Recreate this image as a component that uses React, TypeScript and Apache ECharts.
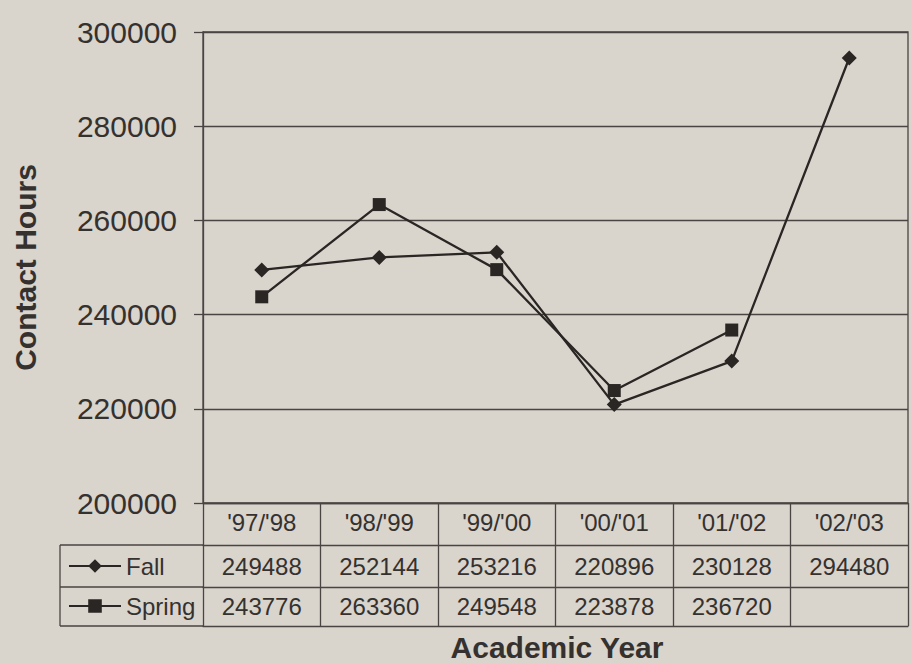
import React, { useEffect, useRef } from "react";
import * as echarts from "echarts";

const categories = ["'97/'98", "'98/'99", "'99/'00", "'00/'01", "'01/'02", "'02/'03"];
const fall = [249488, 252144, 253216, 220896, 230128, 294480];
const spring: (number | null)[] = [243776, 263360, 249548, 223878, 236720, null];
const yMin = 200000;
const yMax = 300000;
const yInterval = 20000;

const FONT = "'Liberation Sans', Arial, sans-serif";
const INK = "#35312f";
const LINE = "#4a4542";
const BG = "#d9d4cc";

export default function App() {
  const ref = useRef<HTMLDivElement>(null);
  useEffect(() => {
    if (!ref.current) return;
    const chart = echarts.init(ref.current, null, { renderer: "svg" });
    const gridLeft = 203;
    const gridBottomY = 503;
    const tableAxis = (data: string[], offset: number, tickLen: number, margin: number, showLabel = true, showTick = true) => ({
      type: "category",
      data,
      position: "bottom",
      offset,
      boundaryGap: true,
      axisLine: { show: true, lineStyle: { color: LINE, width: 1.3 } },
      axisTick: { show: showTick, interval: 0, length: tickLen, inside: false, lineStyle: { color: LINE, width: 1.3 } },
      axisLabel: { show: showLabel, interval: 0, margin, fontSize: 24, color: INK, fontFamily: FONT },
      splitLine: { show: false },
    });
    const option: any = {
      animation: false,
      backgroundColor: BG,
      textStyle: { fontFamily: FONT },
      grid: {
        left: gridLeft,
        right: 4,
        top: 32,
        bottom: 664 - gridBottomY,
        show: true,
        borderColor: LINE,
        borderWidth: 1.3,
        containLabel: false,
      },
      legend: [
        {
          data: ["Fall"],
          left: 68,
          top: 554,
          padding: 0,
          itemWidth: 52,
          itemHeight: 17,
          itemGap: 0,
          textStyle: { fontSize: 24, color: INK, fontFamily: FONT },
          selectedMode: false,
        },
        {
          data: ["Spring"],
          left: 68,
          top: 594,
          padding: 0,
          itemWidth: 52,
          itemHeight: 17,
          itemGap: 0,
          textStyle: { fontSize: 24, color: INK, fontFamily: FONT },
          selectedMode: false,
        },
      ],
      xAxis: [
        tableAxis(categories, 0, 42, 7),
        tableAxis(fall.map((v) => String(v)), 42, 42, 9),
        tableAxis(spring.map((v) => (v == null ? "" : String(v))), 84, 39, 7),
        tableAxis(categories.map(() => ""), 123, 0, 0, false, false),
      ],
      yAxis: {
        type: "value",
        min: yMin,
        max: yMax,
        interval: yInterval,
        name: "Contact Hours",
        nameLocation: "middle",
        nameGap: 163,
        nameTextStyle: { fontSize: 30, fontWeight: "bold", color: INK, fontFamily: FONT },
        axisLine: { show: true, lineStyle: { color: LINE, width: 1.3 } },
        axisTick: { show: true, length: 9, inside: false, lineStyle: { color: LINE, width: 1.3 } },
        axisLabel: { margin: 26, fontSize: 30, color: INK, fontFamily: FONT, formatter: (v: number) => String(v) },
        splitLine: { show: true, lineStyle: { color: LINE, width: 1.3 } },
      },
      series: [
        {
          name: "Fall",
          type: "line",
          data: fall,
          xAxisIndex: 0,
          symbol: "diamond",
          symbolSize: 15,
          itemStyle: { color: "#2a2624" },
          lineStyle: { color: "#2a2624", width: 2.3 },
        },
        {
          name: "Spring",
          type: "line",
          data: spring,
          xAxisIndex: 0,
          symbol: "rect",
          symbolSize: 13,
          itemStyle: { color: "#2a2624" },
          lineStyle: { color: "#2a2624", width: 2.3 },
        },
      ],
      graphic: [
        { type: "line", shape: { x1: 60, y1: 545, x2: gridLeft, y2: 545 }, style: { stroke: LINE, lineWidth: 1.3 } },
        { type: "line", shape: { x1: 60, y1: 587, x2: gridLeft, y2: 587 }, style: { stroke: LINE, lineWidth: 1.3 } },
        { type: "line", shape: { x1: 60, y1: 626, x2: gridLeft, y2: 626 }, style: { stroke: LINE, lineWidth: 1.3 } },
        { type: "line", shape: { x1: 60, y1: 545, x2: 60, y2: 626 }, style: { stroke: LINE, lineWidth: 1.3 } },
        {
          type: "text",
          x: 557,
          y: 662,
          style: {
            text: "Academic Year",
            fontSize: 30,
            fontWeight: "bold",
            fill: INK,
            fontFamily: FONT,
            align: "center",
            verticalAlign: "bottom",
          },
        },
      ],
    };
    chart.setOption(option);
    return () => chart.dispose();
  }, []);
  return (
    <div
      ref={ref}
      style={{ position: "absolute", left: 0, top: 0, width: 912, height: 664 }}
    />
  );
}
